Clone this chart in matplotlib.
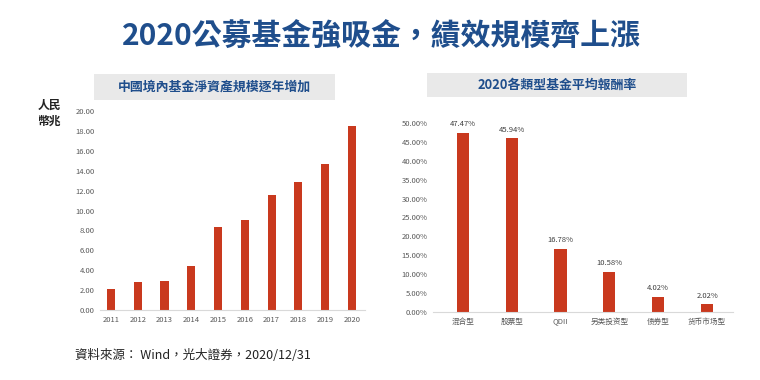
import matplotlib.pyplot as plt
from matplotlib.patches import Rectangle

plt.rcParams['font.family'] = ['Noto Sans CJK TC', 'DejaVu Sans']

# left chart: net asset size (trillion RMB)
years = ['2011', '2012', '2013', '2014', '2015', '2016', '2017', '2018', '2019', '2020']
assets = [2.14, 2.78, 2.91, 4.42, 8.34, 9.08, 11.52, 12.86, 14.64, 18.53]
left_ticks = [0, 2, 4, 6, 8, 10, 12, 14, 16, 18, 20]

# right chart: average return by fund type
fund_types = ['混合型', '股票型', 'QDII', '另类投资型', '债券型', '货币市场型']
returns = [47.47, 45.94, 16.78, 10.58, 4.02, 2.02]
right_ticks = [0, 5, 10, 15, 20, 25, 30, 35, 40, 45, 50]

bar_color = '#c9391e'
tick_color = '#595959'
W, H = 760, 380

fig = plt.figure(figsize=(7.6, 3.8), dpi=100)

def px(x0, y0, x1, y1):
    # pixel box (top-left origin) -> figure fraction rect
    return [x0 / W, 1 - y1 / H, (x1 - x0) / W, (y1 - y0) / H]

fig.text(381 / W, 1 - 37 / H, '2020公募基金強吸金，績效規模齊上漲',
         ha='center', va='center', fontsize=21.5, fontweight='bold', color='#1f4e8c')

# header boxes
for (x0, y0, x1, y1), label in [((94, 74, 335, 100), '中國境內基金淨資產規模逐年增加'),
                                 ((427, 73, 687, 97), '2020各類型基金平均報酬率')]:
    fig.patches.append(Rectangle((x0 / W, 1 - y1 / H), (x1 - x0) / W, (y1 - y0) / H,
                                 transform=fig.transFigure, facecolor='#e9e9e9',
                                 edgecolor='none', zorder=0))
    fig.text((x0 + x1) / 2 / W, 1 - (y0 + y1) / 2 / H, label, ha='center', va='center',
             fontsize=9.3, fontweight='bold', color='#1f4e8c')

# left chart
ax1 = fig.add_axes(px(100, 111, 365, 310))
ax1.bar(range(len(years)), assets, width=0.3, color=bar_color)
ax1.set_xlim(-0.41, 9.49)
ax1.set_ylim(0, 20)
ax1.set_yticks(left_ticks)
ax1.set_yticklabels([f'{v:.2f}' for v in left_ticks])
ax1.set_xticks(range(len(years)))
ax1.set_xticklabels(years)
fig.text(49 / W, 1 - 113 / H, '人民\n幣兆', ha='center', va='center', fontsize=8.5,
         fontweight='bold', color='#222222', linespacing=1.25)

# right chart
ax2 = fig.add_axes(px(433, 123, 733, 312))
ax2.bar(range(len(fund_types)), returns, width=0.25, color=bar_color)
ax2.set_xlim(-0.61, 5.53)
ax2.set_ylim(0, 50)
ax2.set_yticks(right_ticks)
ax2.set_yticklabels([f'{v:.2f}%' for v in right_ticks])
ax2.set_xticks(range(len(fund_types)))
ax2.set_xticklabels(fund_types, family=['Noto Sans CJK SC', 'DejaVu Sans'])
for i, v in enumerate(returns):
    ax2.text(i, v + 1.2, f'{v:.2f}%', ha='center', va='bottom', fontsize=5.5,
             color='#404040', clip_on=False)

for ax in (ax1, ax2):
    for s in ('top', 'right', 'left'):
        ax.spines[s].set_visible(False)
    ax.spines['bottom'].set_color('#d9d9d9')
    ax.tick_params(length=0, labelsize=5.5, colors=tick_color, pad=4)

fig.text(75 / W, 1 - 355 / H, '資料來源： Wind，光大證券，2020/12/31', ha='left', va='center',
         fontsize=9, color='#222222')

fig.savefig('out.png', dpi=100)
